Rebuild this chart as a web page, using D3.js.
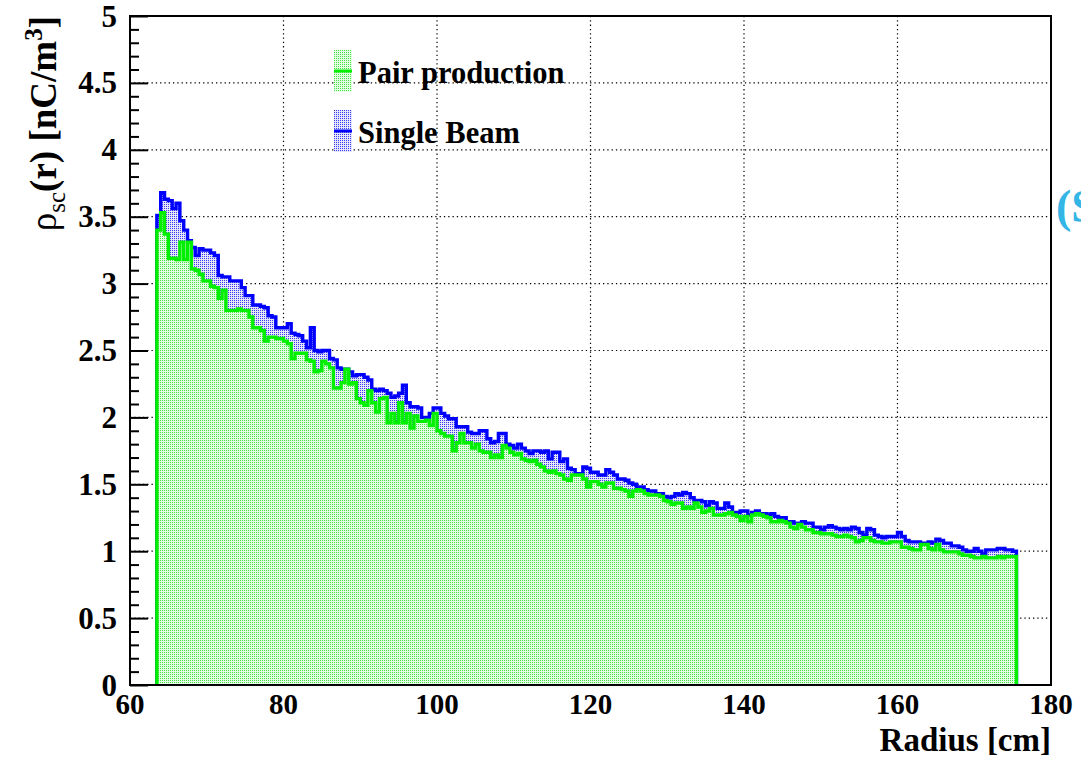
<!DOCTYPE html>
<html>
<head>
<meta charset="utf-8">
<script src="https://cdn.jsdelivr.net/npm/d3@7"></script>
<style>
  html, body { margin: 0; padding: 0; background: #fff; }
  svg { display: block; }
</style>
</head>
<body>
<svg id="chart" width="1081" height="760" font-family="'Liberation Serif', Tinos, 'Times New Roman', 'DejaVu Serif', serif"></svg>
<script>
// Space-charge density vs radius, 0.5 cm bins from 63.5 to 175.5 cm
const histRange = [63.5, 175.5];

const singleBeam = [
  3.51, 3.68, 3.63, 3.62, 3.56, 3.60, 3.47, 3.40, 3.32, 3.27,
  3.21, 3.26, 3.25, 3.25, 3.23, 3.21, 3.06, 3.05, 3.05, 3.02,
  3.02, 3.02, 2.97, 2.91, 2.91, 2.84, 2.84, 2.83, 2.82, 2.76,
  2.75, 2.67, 2.67, 2.67, 2.70, 2.63, 2.62, 2.61, 2.57, 2.52,
  2.67, 2.50, 2.49, 2.50,
  2.50, 2.44, 2.43, 2.37, 2.36, 2.36, 2.34, 2.31, 2.32, 2.32,
  2.30, 2.28, 2.21, 2.20, 2.21, 2.20, 2.18, 2.15, 2.16, 2.18,
  2.24, 2.11, 2.08, 2.08, 2.07, 2.00, 2.00, 2.03, 2.07, 2.07,
  2.03, 2.01, 1.99, 1.99, 1.93, 1.93, 1.93, 1.89, 1.88, 1.88,
  1.90, 1.90, 1.84, 1.81, 1.82, 1.88,
  1.88, 1.80, 1.79, 1.77, 1.80, 1.77, 1.75, 1.73, 1.75, 1.75,
  1.74, 1.75, 1.69, 1.74, 1.74, 1.67, 1.69, 1.62, 1.61, 1.58,
  1.58, 1.63, 1.62, 1.59, 1.59, 1.57, 1.57, 1.61, 1.59, 1.57,
  1.54, 1.54, 1.53, 1.51, 1.50, 1.48, 1.48, 1.46, 1.45, 1.45,
  1.43, 1.43, 1.41, 1.40, 1.41,
  1.43, 1.42, 1.44, 1.43, 1.40, 1.38, 1.38, 1.37, 1.34, 1.37,
  1.36, 1.32, 1.32, 1.36, 1.33, 1.29, 1.29, 1.30, 1.30, 1.27,
  1.29, 1.30, 1.28, 1.28, 1.27, 1.28, 1.26, 1.25, 1.25, 1.22,
  1.22, 1.21, 1.21, 1.22, 1.21, 1.21, 1.18, 1.18, 1.16, 1.18,
  1.19, 1.18, 1.17, 1.16, 1.17, 1.16,
  1.18, 1.17, 1.14, 1.12, 1.17, 1.16, 1.12, 1.11, 1.10, 1.11,
  1.11, 1.11, 1.14, 1.11, 1.08, 1.07, 1.07, 1.07, 1.06, 1.06,
  1.07, 1.06, 1.09, 1.08, 1.06, 1.06, 1.04, 1.04, 1.03, 1.01,
  1.00, 1.00, 1.02, 1.00, 0.98, 1.01, 1.01, 1.01, 1.02, 1.02,
  1.01, 1.01, 1.00
];

const pairProduction = [
  3.40, 3.53, 3.37, 3.19, 3.19, 3.18, 3.31, 3.18, 3.31, 3.11,
  3.10, 3.07, 3.02, 3.02, 2.98, 2.97, 2.89, 2.95, 2.80, 2.80,
  2.80, 2.81, 2.80, 2.80, 2.75, 2.67, 2.67, 2.65, 2.57, 2.60,
  2.60, 2.59, 2.59, 2.57, 2.55, 2.44, 2.48, 2.48, 2.48, 2.43,
  2.42, 2.34, 2.35, 2.42,
  2.40, 2.37, 2.22, 2.22, 2.26, 2.36, 2.25, 2.26, 2.14, 2.11,
  2.09, 2.20, 2.11, 2.04, 2.14, 2.15, 1.96, 2.03, 1.96, 2.11,
  1.96, 2.03, 1.92, 2.01, 1.97, 1.97, 1.98, 1.94, 2.03, 1.90,
  1.88, 1.86, 1.86, 1.75, 1.81, 1.88, 1.81, 1.81, 1.77, 1.80,
  1.75, 1.74, 1.74, 1.70, 1.72, 1.70,
  1.79, 1.77, 1.74, 1.72, 1.73, 1.69, 1.68, 1.67, 1.68, 1.65,
  1.63, 1.60, 1.59, 1.60, 1.58, 1.57, 1.54, 1.53, 1.57, 1.57,
  1.57, 1.54, 1.48, 1.52, 1.52, 1.50, 1.48, 1.51, 1.51, 1.47,
  1.47, 1.46, 1.45, 1.41, 1.45, 1.46, 1.45, 1.43, 1.42, 1.42,
  1.42, 1.41, 1.38, 1.37, 1.35,
  1.36, 1.36, 1.32, 1.33, 1.32, 1.36, 1.33, 1.29, 1.30, 1.32,
  1.27, 1.27, 1.27, 1.28, 1.29, 1.27, 1.26, 1.23, 1.26, 1.22,
  1.27, 1.28, 1.27, 1.26, 1.25, 1.22, 1.22, 1.23, 1.22, 1.21,
  1.18, 1.17, 1.20, 1.18, 1.16, 1.16, 1.14, 1.14, 1.13, 1.13,
  1.13, 1.12, 1.11, 1.11, 1.12, 1.11,
  1.10, 1.07, 1.08, 1.10, 1.10, 1.08, 1.07, 1.07, 1.06, 1.06,
  1.07, 1.07, 1.07, 1.03, 1.03, 1.02, 1.01, 1.01, 1.05, 1.05,
  1.02, 1.01, 1.05, 1.01, 0.995, 0.995, 0.995, 0.995, 0.98, 0.97,
  0.97, 0.96, 0.95, 0.95, 0.96, 0.95, 0.95, 0.95, 0.96, 0.95,
  0.96, 0.96, 0.96
];

const xTickValues = [60, 80, 100, 120, 140, 160, 180];
const yTickValues = [0, 0.5, 1, 1.5, 2, 2.5, 3, 3.5, 4, 4.5, 5];
const legendLabels = ["Pair production", "Single Beam"];

const frame = { left: 130, right: 1051, top: 16, bottom: 685 };
const svg = d3.select("#chart");

const x = d3.scaleLinear().domain([60, 180]).range([frame.left, frame.right]);
const y = d3.scaleLinear().domain([0, 5]).range([frame.bottom, frame.top]);

// Dotted fill patterns (ROOT style 3001 look)
const defs = svg.append("defs");
function dotPattern(id, base, dot) {
  const p = defs.append("pattern").attr("id", id)
    .attr("width", 2).attr("height", 2).attr("patternUnits", "userSpaceOnUse");
  p.append("rect").attr("width", 2).attr("height", 2).attr("fill", base);
  p.append("rect").attr("width", 1).attr("height", 1).attr("fill", dot);
}
dotPattern("fillPair", "#e2fde2", "#44e044");
dotPattern("fillBeam", "#e4e4fb", "#3a3aee");

// Grid
const grid = svg.append("g").attr("stroke", "#000").attr("stroke-width", 1.2)
  .attr("stroke-dasharray", "1.3,3");
grid.selectAll("line.gx").data(xTickValues.slice(1, -1)).join("line")
  .attr("x1", d => x(d)).attr("x2", d => x(d))
  .attr("y1", frame.top).attr("y2", frame.bottom);
grid.selectAll("line.gy").data(yTickValues.slice(1, -1)).join("line")
  .attr("x1", frame.left).attr("x2", frame.right)
  .attr("y1", d => y(d)).attr("y2", d => y(d));

// Step histogram outline points
function stepPoints(values) {
  const n = values.length;
  const w = (histRange[1] - histRange[0]) / n;
  const pts = [[histRange[0], 0]];
  values.forEach((v, i) => pts.push([histRange[0] + i * w, v]));
  pts.push([histRange[1], values[n - 1]]);
  pts.push([histRange[1], 0]);
  return pts;
}
const stepLine = d3.line().x(d => x(d[0])).y(d => y(d[1])).curve(d3.curveStepAfter);

function drawHist(values, fillId, color) {
  const pts = stepPoints(values);
  svg.append("path").attr("d", stepLine(pts) + "Z")
    .attr("fill", `url(#${fillId})`).attr("stroke", "none");
  svg.append("path").attr("d", stepLine(pts))
    .attr("fill", "none").attr("stroke", color).attr("stroke-width", 3.4)
    .attr("stroke-linejoin", "miter");
}
drawHist(singleBeam, "fillBeam", "#0000ff");
drawHist(pairProduction, "fillPair", "#00f000");

// Frame
svg.append("rect")
  .attr("x", frame.left).attr("y", frame.top)
  .attr("width", frame.right - frame.left).attr("height", frame.bottom - frame.top)
  .attr("fill", "none").attr("stroke", "#000").attr("stroke-width", 2);

// Left axis: inward major and minor ticks
const yAxis = d3.axisRight(y)
  .tickValues(d3.range(0, 5.0001, 0.1).map(v => +v.toFixed(1)))
  .tickSize(9).tickFormat("");
const yAxisG = svg.append("g").attr("transform", `translate(${frame.left},0)`).call(yAxis);
yAxisG.select(".domain").remove();
yAxisG.selectAll(".tick line")
  .attr("stroke", "#000").attr("stroke-width", 2)
  .attr("x2", d => (Math.abs(d * 2 - Math.round(d * 2)) < 1e-6 ? 18 : 9));

// Y tick labels
svg.append("g").selectAll("text").data(yTickValues).join("text")
  .attr("x", 117).attr("y", d => y(d)).attr("dy", "0.34em")
  .attr("text-anchor", "end").attr("font-weight", "bold").attr("font-size", 31)
  .text(d => d3.format("")(d));

// X tick labels
svg.append("g").selectAll("text").data(xTickValues).join("text")
  .attr("x", d => x(d)).attr("y", 714)
  .attr("text-anchor", "middle").attr("font-weight", "bold").attr("font-size", 29)
  .text(d => d);

// Axis titles
svg.append("text").attr("x", frame.right).attr("y", 751)
  .attr("text-anchor", "end").attr("font-weight", "bold").attr("font-size", 33)
  .text("Radius [cm]");

const yTitle = svg.append("text")
  .attr("transform", `translate(56,${frame.top}) rotate(-90)`)
  .attr("text-anchor", "end").attr("font-size", 37);
yTitle.append("tspan").text("ρ");
yTitle.append("tspan").attr("font-size", 25).attr("dy", 9).text("sc");
yTitle.append("tspan").attr("font-weight", "bold").attr("dy", -9).text("(r) [nC/m");
yTitle.append("tspan").attr("font-weight", "bold").attr("font-size", 25).attr("dy", -14).text("3");
yTitle.append("tspan").attr("font-weight", "bold").attr("dy", 14).text("]");

// Legend
const legend = [
  { label: legendLabels[0], fill: "fillPair", color: "#00f000", top: 50 },
  { label: legendLabels[1], fill: "fillBeam", color: "#0000ff", top: 110 }
];
const lg = svg.append("g").selectAll("g").data(legend).join("g");
lg.append("rect").attr("x", 334).attr("y", d => d.top).attr("width", 18).attr("height", 42)
  .attr("fill", d => `url(#${d.fill})`);
lg.append("line").attr("x1", 334).attr("x2", 352)
  .attr("y1", d => d.top + 21).attr("y2", d => d.top + 21)
  .attr("stroke", d => d.color).attr("stroke-width", 3);
lg.append("text").attr("x", 358).attr("y", d => d.top + 33)
  .attr("font-weight", "bold").attr("font-size", 30.5).text(d => d.label);

// Neighbouring panel label cut at the page edge
svg.append("text").attr("x", 1056).attr("y", 222)
  .attr("font-weight", "bold").attr("font-size", 46).attr("fill", "#33b5e5")
  .text("(S");
</script>
</body>
</html>
